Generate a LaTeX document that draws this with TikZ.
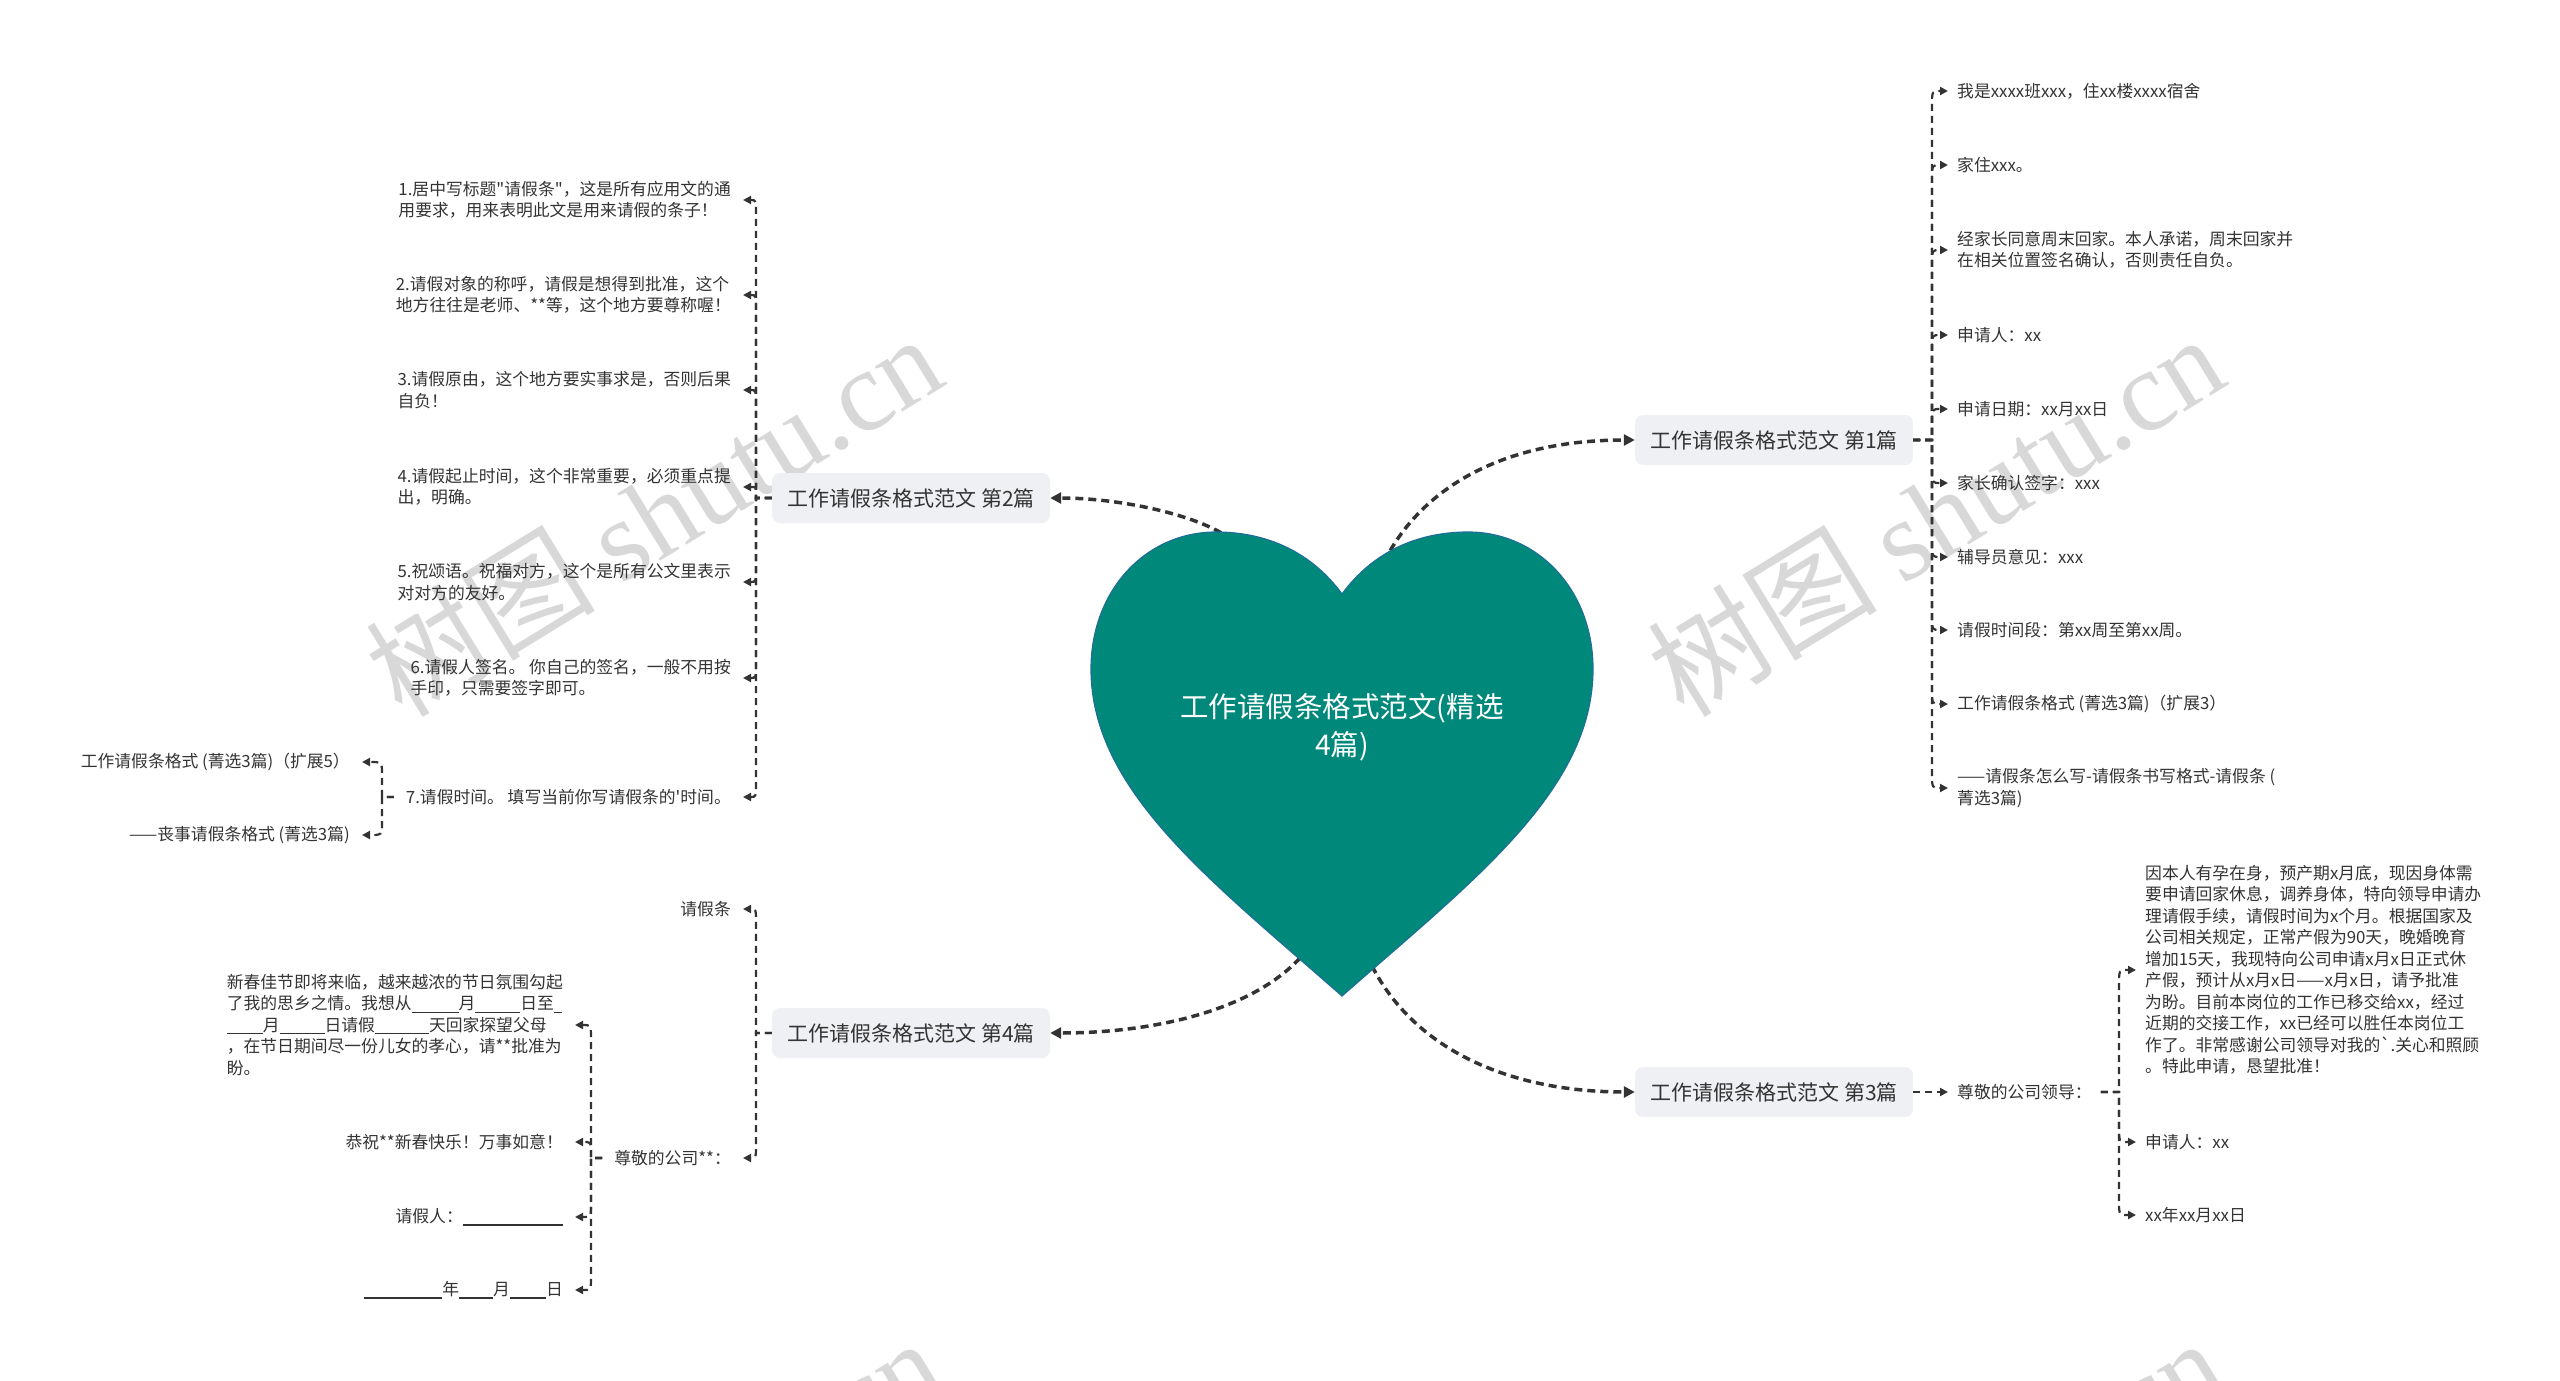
\documentclass[tikz,border=0pt]{standalone}
\usepackage{fontspec}
\setmainfont{Noto Sans CJK SC}
\newfontfamily\wmserif{Liberation Serif}
\usetikzlibrary{arrows.meta,calc}
\definecolor{teal6}{RGB}{0,137,123}
\definecolor{heartline}{RGB}{30,110,150}
\definecolor{txt}{RGB}{51,51,51}
\definecolor{edgec}{RGB}{51,51,51}
\definecolor{boxfill}{RGB}{238,240,243}
\definecolor{wmc}{RGB}{216,216,216}
\newcommand{\ulgap}[1]{\rule[-3pt]{#1pt}{1.2pt}}
\newcommand{\lnk}[4]{\draw[leafedge] (#1) -- (#2) -- ($(#2 |- #3)+(0,#4)$) .. controls (#2 |- #3) .. (#3);}
\tikzset{
 branch/.style={fill=boxfill, rounded corners=8pt, minimum width=278pt, minimum height=50pt, inner sep=0pt, text=txt, font=\fontsize{21}{25}\selectfont},
 leafR/.style={anchor=west, inner xsep=9pt, inner ysep=2pt, text=txt, align=left, font=\fontsize{16.8}{21.5}\selectfont},
 leafL/.style={anchor=east, inner xsep=12pt, inner ysep=2pt, text=txt, align=left, font=\fontsize{16.8}{21.5}\selectfont},
 mainedge/.style={draw=edgec, line width=3.5pt, dash pattern=on 8pt off 5pt, -{Triangle[length=11pt,width=11pt]}},
 leafedge/.style={draw=edgec, line width=2.2pt, dash pattern=on 7pt off 5pt, -{Triangle[length=8pt,width=8pt]}},
 wm/.style={text=wmc, inner sep=0pt, rotate=31.5, font=\fontsize{115}{115}\selectfont},
}
\begin{document}
\begin{tikzpicture}[x=1pt,y=-1pt]
\useasboundingbox (0,0) rectangle (2560,1381);
% watermarks
\begin{scope}
\clip (0,0) rectangle (2560,1381);
\node[wm] (wm1) at (653,514) {树图 {\wmserif shutu.cn}};
\node[wm] (wm2) at (1935,514) {树图 {\wmserif shutu.cn}};
\node[wm] (wm3) at (653,1518) {树图 {\wmserif shutu.cn}};
\node[wm] (wm4) at (1935,1518) {树图 {\wmserif shutu.cn}};
\end{scope}

% branch boxes
\node[branch] (B1) at (1774,440) {工作请假条格式范文 第1篇};
\node[branch] (B2) at (911,498) {工作请假条格式范文 第2篇};
\node[branch] (B3) at (1774,1092) {工作请假条格式范文 第3篇};
\node[branch] (B4) at (911,1033) {工作请假条格式范文 第4篇};

% B1 children
\node[leafR] (c11) at (1948,91) {我是xxxx班xxx，住xx楼xxxx宿舍};
\node[leafR] (c12) at (1948,165) {家住xxx。};
\node[leafR] (c13) at (1948,250) {经家长同意周末回家。本人承诺，周末回家并\\在相关位置签名确认，否则责任自负。};
\node[leafR] (c14) at (1948,335) {申请人：xx};
\node[leafR] (c15) at (1948,409) {申请日期：xx月xx日};
\node[leafR] (c16) at (1948,483) {家长确认签字：xxx};
\node[leafR] (c17) at (1948,557) {辅导员意见：xxx};
\node[leafR] (c18) at (1948,630) {请假时间段：第xx周至第xx周。};
\node[leafR] (c19) at (1948,704) {工作请假条格式 (菁选3篇)（扩展3）};
\node[leafR] (c1a) at (1948,788) {——请假条怎么写-请假条书写格式-请假条 (\\菁选3篇)};
\coordinate (s1) at (1932,440);
\lnk{B1.east}{s1}{c11.west}{14}
\lnk{B1.east}{s1}{c12.west}{14}
\lnk{B1.east}{s1}{c13.west}{14}
\lnk{B1.east}{s1}{c14.west}{14}
\lnk{B1.east}{s1}{c15.west}{14}
\lnk{B1.east}{s1}{c16.west}{-14}
\lnk{B1.east}{s1}{c17.west}{-14}
\lnk{B1.east}{s1}{c18.west}{-14}
\lnk{B1.east}{s1}{c19.west}{-14}
\lnk{B1.east}{s1}{c1a.west}{-14}

% B2 children
\node[leafL] (c21) at (743,200) {1.居中写标题\textquotedbl 请假条\textquotedbl ，这是所有应用文的通\\用要求，用来表明此文是用来请假的条子！};
\node[leafL] (c22) at (743,295) {2.请假对象的称呼，请假是想得到批准，这个\\地方往往是老师、**等，这个地方要尊称喔！};
\node[leafL] (c23) at (743,390) {3.请假原由，这个地方要实事求是，否则后果\\自负！};
\node[leafL] (c24) at (743,487) {4.请假起止时间，这个非常重要，必须重点提\\出，明确。};
\node[leafL] (c25) at (743,582) {5.祝颂语。祝福对方，这个是所有公文里表示\\对对方的友好。};
\node[leafL] (c26) at (743,678) {6.请假人签名。 你自己的签名，一般不用按\\手印，只需要签字即可。};
\node[leafL] (c27) at (743,797) {7.请假时间。 填写当前你写请假条的\textquotesingle 时间。};
\coordinate (s2) at (756,498);
\lnk{B2.west}{s2}{c21.east}{14}
\lnk{B2.west}{s2}{c22.east}{14}
\lnk{B2.west}{s2}{c23.east}{14}
\lnk{B2.west}{s2}{c24.east}{5}
\lnk{B2.west}{s2}{c25.east}{-14}
\lnk{B2.west}{s2}{c26.east}{-14}
\lnk{B2.west}{s2}{c27.east}{-14}
\node[leafL] (c271) at (362,762) {工作请假条格式 (菁选3篇)（扩展5）};
\node[leafL] (c272) at (362,835) {——丧事请假条格式 (菁选3篇)};
\coordinate (s27) at (382,797);
\lnk{c27.west}{s27}{c271.east}{12}
\lnk{c27.west}{s27}{c272.east}{-12}

% B3 children
\node[leafR] (c31) at (1948,1092) {尊敬的公司领导：};
\draw[leafedge] (B3.east) -- (c31.west);
\node[leafR] (c311) at (2136,970) {因本人有孕在身，预产期x月底，现因身体需\\要申请回家休息，调养身体，特向领导申请办\\理请假手续，请假时间为x个月。根据国家及\\公司相关规定，正常产假为90天，晚婚晚育\\增加15天，我现特向公司申请x月x日正式休\\产假，预计从x月x日——x月x日，请予批准\\为盼。目前本岗位的工作已移交给xx，经过\\近期的交接工作，xx已经可以胜任本岗位工\\作了。非常感谢公司领导对我的\textasciigrave.关心和照顾\\。特此申请，恳望批准！};
\node[leafR] (c312) at (2136,1142) {申请人：xx};
\node[leafR] (c313) at (2136,1215) {xx年xx月xx日};
\coordinate (s31) at (2119,1092);
\lnk{c31.east}{s31}{c311.west}{14}
\lnk{c31.east}{s31}{c312.west}{-14}
\lnk{c31.east}{s31}{c313.west}{-14}

% B4 children
\node[leafL] (c41) at (743,909) {请假条};
\node[leafL] (c42) at (743,1158) {尊敬的公司**：};
\coordinate (s4) at (756,1033);
\lnk{B4.west}{s4}{c41.east}{14}
\lnk{B4.west}{s4}{c42.east}{-14}
\node[leafL] (c421) at (575,1025) {新春佳节即将来临，越来越浓的节日氛围勾起\\了我的思乡之情。我想从\ulgap{47}月\ulgap{45}日至\ulgap{8}\\\ulgap{36}月\ulgap{45}日请假\ulgap{54}天回家探望父母\\，在节日期间尽一份儿女的孝心，请**批准为\\盼。};
\node[leafL] (c422) at (575,1142) {恭祝**新春快乐！万事如意！};
\node[leafL] (c423) at (575,1217) {请假人：\ulgap{100}};
\node[leafL] (c424) at (575,1290) {\ulgap{78}年\ulgap{34}月\ulgap{36}日};
\coordinate (s42) at (591,1158);
\lnk{c42.west}{s42}{c421.east}{14}
\lnk{c42.west}{s42}{c422.east}{8}
\lnk{c42.west}{s42}{c423.east}{-14}
\lnk{c42.west}{s42}{c424.east}{-14}

% heart connectors
\coordinate (hB1) at (1384,562);
\coordinate (hB2) at (1232,540);
\coordinate (hB3) at (1372,966);
\coordinate (hB4) at (1300,958);
\draw[mainedge] (hB1) .. controls (1420,490) and (1500,440) .. (B1.west);
\draw[mainedge] (hB2) .. controls (1200,515) and (1120,498) .. (B2.east);
\draw[mainedge] (hB3) .. controls (1415,1050) and (1510,1092) .. (B3.west);
\draw[mainedge] (hB4) .. controls (1250,1012) and (1150,1033) .. (B4.east);

% heart
\path[fill=teal6, draw=heartline, line width=1.2pt]
 (1342,594) .. controls (1312,553) and (1268,532) .. (1216,532)
 .. controls (1146,532) and (1091,590) .. (1091,669)
 .. controls (1091,790) and (1210,880) .. (1342,996)
 .. controls (1474,880) and (1593,790) .. (1593,669)
 .. controls (1593,590) and (1538,532) .. (1468,532)
 .. controls (1416,532) and (1372,553) .. (1342,594) -- cycle;
\node[text=white, align=center, inner sep=0pt, font=\fontsize{28.5}{38}\selectfont] (root) at (1342,727) {工作请假条格式范文(精选\\4篇)};
\end{tikzpicture}
\end{document}
